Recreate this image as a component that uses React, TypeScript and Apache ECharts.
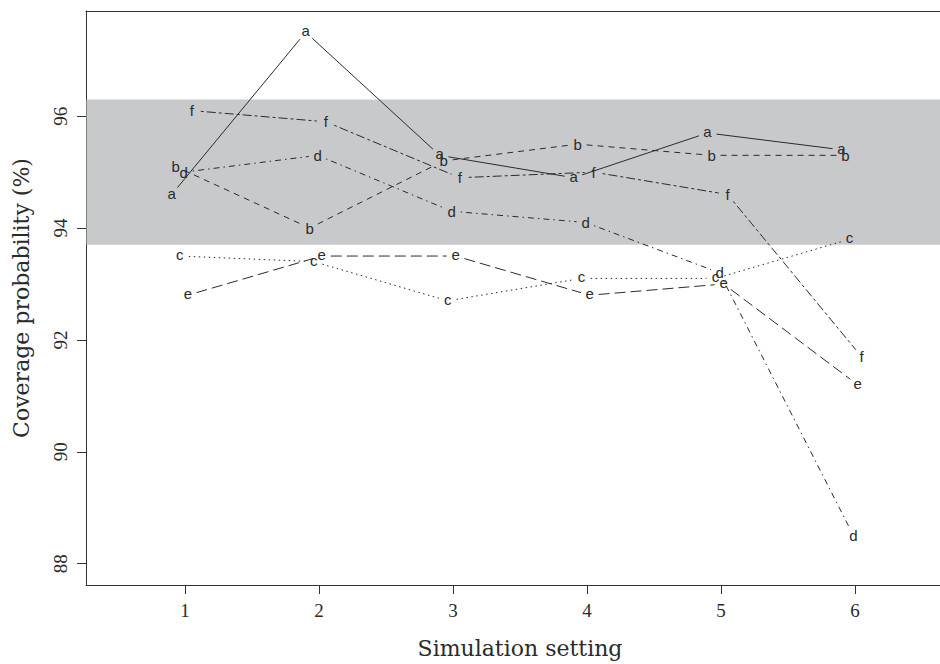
import React, { useEffect, useRef } from "react";
import * as echarts from "echarts";

const settings = [1, 2, 3, 4, 5, 6];
const letters = ["a", "b", "c", "d", "e", "f"];
const seriesA = [94.6, 97.5, 95.3, 94.9, 95.7, 95.4];
const seriesB = [95.1, 94.0, 95.2, 95.5, 95.3, 95.3];
const seriesC = [93.5, 93.4, 92.7, 93.1, 93.1, 93.8];
const seriesD = [95.0, 95.3, 94.3, 94.1, 93.2, 88.5];
const seriesE = [92.8, 93.5, 93.5, 92.8, 93.0, 91.2];
const seriesF = [96.1, 95.9, 94.9, 95.0, 94.6, 91.7];
const xOffsets = [-0.1, -0.07, -0.04, -0.01, 0.02, 0.05];
const bandRange = [93.7, 96.3];
const yTicks = [88, 90, 92, 94, 96];
const xTicks = [1, 2, 3, 4, 5, 6];

const allSeries = [seriesA, seriesB, seriesC, seriesD, seriesE, seriesF];
const dashes: (number[] | null)[] = [
  null,
  [6, 5],
  [1.5, 3.5],
  [1.5, 4, 6, 4],
  [11, 5],
  [3, 3, 9, 3],
];

const INK = "#2b2b2b";
const GAP = 9;

export default function App() {
  const ref = useRef<HTMLDivElement>(null);
  useEffect(() => {
    if (!ref.current) return;
    const chart = echarts.init(ref.current, null, { renderer: "svg" });

    const series: any[] = [];
    series.push({
      type: "custom",
      silent: true,
      z: 1,
      data: [[bandRange[0], bandRange[1]]],
      renderItem: (params: any, api: any) => {
        const cs = params.coordSys;
        const yTop = api.coord([1, api.value(1)])[1];
        const yBot = api.coord([1, api.value(0)])[1];
        return {
          type: "rect",
          shape: { x: cs.x + 0.5, y: yTop, width: cs.width - 1, height: yBot - yTop },
          style: { fill: "#c8c9cb" },
        };
      },
    });

    allSeries.forEach((vals, si) => {
      const off = xOffsets[si];
      const segs = [];
      for (let i = 1; i < vals.length; i++) {
        segs.push([settings[i - 1] + off, vals[i - 1], settings[i] + off, vals[i]]);
      }
      const dash = dashes[si];
      series.push({
        type: "custom",
        silent: true,
        z: 3,
        data: segs,
        encode: { x: [0, 2], y: [1, 3] },
        renderItem: (params: any, api: any) => {
          const p0 = api.coord([api.value(0), api.value(1)]);
          const p1 = api.coord([api.value(2), api.value(3)]);
          const dx = p1[0] - p0[0];
          const dy = p1[1] - p0[1];
          const len = Math.hypot(dx, dy);
          if (len <= 2 * GAP) return null;
          const ux = dx / len;
          const uy = dy / len;
          const style: any = { stroke: INK, lineWidth: 1, fill: null };
          if (dash) style.lineDash = dash;
          return {
            type: "line",
            shape: {
              x1: p0[0] + ux * GAP,
              y1: p0[1] + uy * GAP,
              x2: p1[0] - ux * GAP,
              y2: p1[1] - uy * GAP,
            },
            style,
          };
        },
      });
      series.push({
        type: "custom",
        silent: true,
        z: 4,
        data: vals.map((v, i) => [settings[i] + off, v]),
        renderItem: (params: any, api: any) => {
          const p = api.coord([api.value(0), api.value(1)]);
          const xh = "ace".includes(letters[si]);
          return {
            type: "text",
            x: p[0],
            y: p[1] - (xh ? 1.5 : 0),
            style: {
              text: letters[si],
              fill: INK,
              fontSize: 15,
              fontFamily: "Liberation Sans, Arial, sans-serif",
              align: "center",
              verticalAlign: "middle",
            },
          };
        },
      });
    });

    chart.setOption({
      animation: false,
      backgroundColor: "#ffffff",
      grid: { left: 86, top: 11, right: 0, bottom: 76, containLabel: false },
      xAxis: [
        {
          type: "value",
          min: 0.26,
          max: 6.74,
          position: "bottom",
          name: "Simulation setting",
          nameLocation: "middle",
          nameGap: 52,
          nameTextStyle: {
            fontFamily: "DejaVu Serif, serif",
            fontSize: 22,
            color: INK,
          },
          axisLine: { show: true, onZero: false, lineStyle: { color: "#333", width: 1 } },
          axisTick: { show: true, length: 9, customValues: xTicks, lineStyle: { color: "#333" } },
          axisLabel: {
            show: true,
            customValues: xTicks,
            margin: 16,
            fontFamily: "Liberation Serif, serif",
            fontSize: 19,
            color: INK,
          },
          splitLine: { show: false },
        },
        {
          type: "value",
          min: 0.26,
          max: 6.74,
          position: "top",
          axisLine: { show: true, onZero: false, lineStyle: { color: "#333", width: 1 } },
          axisTick: { show: false },
          axisLabel: { show: false },
          splitLine: { show: false },
        },
      ],
      yAxis: [
        {
          type: "value",
          min: 87.62,
          max: 97.88,
          position: "left",
          name: "Coverage probability (%)",
          nameLocation: "middle",
          nameGap: 54,
          nameTextStyle: {
            fontFamily: "DejaVu Serif, serif",
            fontSize: 22,
            color: INK,
          },
          axisLine: { show: true, onZero: false, lineStyle: { color: "#333", width: 1 } },
          axisTick: { show: true, length: 9, customValues: yTicks, lineStyle: { color: "#333" } },
          axisLabel: {
            show: true,
            customValues: yTicks,
            rotate: 90,
            margin: 16,
            fontFamily: "Liberation Serif, serif",
            fontSize: 19,
            color: INK,
          },
          splitLine: { show: false },
        },
        {
          type: "value",
          min: 87.62,
          max: 97.88,
          position: "right",
          axisLine: { show: true, onZero: false, lineStyle: { color: "#333", width: 1 } },
          axisTick: { show: false },
          axisLabel: { show: false },
          splitLine: { show: false },
        },
      ],
      series,
    });
    return () => chart.dispose();
  }, []);
  return (
    <div
      style={{
        position: "absolute",
        left: 0,
        top: 0,
        width: 940,
        height: 664,
        overflow: "hidden",
      }}
    >
      <div ref={ref} style={{ width: 954, height: 664 }} />
    </div>
  );
}
